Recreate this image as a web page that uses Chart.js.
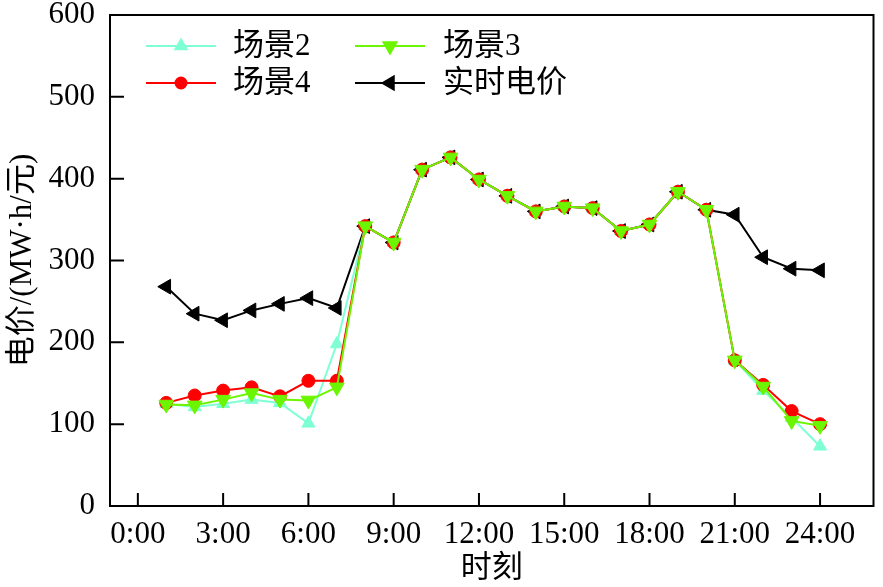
<!DOCTYPE html>
<html>
<head>
<meta charset="utf-8">
<script src="https://cdn.jsdelivr.net/npm/chart.js@4/dist/chart.umd.min.js"></script>
<style>
  html, body { margin: 0; padding: 0; background: #fff; }
  #wrap { width: 883px; height: 587px; }
</style>
</head>
<body>
<div id="wrap"><canvas id="c"></canvas></div>
<script>
const hours = [1, 2, 3, 4, 5, 6, 7, 8, 9, 10, 11, 12, 13, 14, 15, 16, 17, 18, 19, 20, 21, 22, 23, 24];
const scene2 = [125, 121, 125, 130, 126, 101, 198, 342, 322, 411, 426, 399, 379, 360, 366, 364, 336, 344, 384, 362, 178, 141, 108, 73];
const scene3 = [124, 123, 130, 138, 130, 129, 145, 342, 322, 411, 426, 399, 379, 360, 366, 364, 336, 344, 384, 362, 178, 146, 104, 98];
const scene4 = [126, 135, 141, 145, 134, 153, 153, 342, 322, 411, 426, 399, 379, 360, 366, 364, 336, 344, 384, 362, 178, 148, 116, 100];
const realtime = [268, 235, 227, 239, 247, 254, 242, 342, 322, 411, 426, 399, 379, 360, 366, 364, 336, 344, 384, 362, 356, 304, 290, 288];

const xTickValues = [0, 3, 6, 9, 12, 15, 18, 21, 24];
const xTickLabels = ['0:00', '3:00', '6:00', '9:00', '12:00', '15:00', '18:00', '21:00', '24:00'];
const yTickValues = [0, 100, 200, 300, 400, 500, 600];

const FONT = '"Liberation Serif", "Times New Roman", "Noto Sans CJK SC", serif';

const pts = arr => hours.map((h, i) => ({ x: h, y: arr[i] }));

const series = [
  { label: '场景2', data: scene2, color: '#7fffd4', pointStyle: 'triangle', rotation: 0, radius: 7.5, order: 3 },
  { label: '场景3', data: scene3, color: '#6cf500', pointStyle: 'triangle', rotation: 180, radius: 8.5, order: 1 },
  { label: '场景4', data: scene4, color: '#ff0000', pointStyle: 'circle', rotation: 0, radius: 6.5, order: 2 },
  { label: '实时电价', data: realtime, color: '#000000', pointStyle: 'triangle', rotation: -90, radius: 8.5, order: 4 }
];

// frame + inward tick marks
const framePlugin = {
  id: 'frame',
  afterDatasetsDraw(chart) {
    const { ctx, chartArea: a, scales } = chart;
    ctx.save();
    ctx.strokeStyle = '#000';
    ctx.lineWidth = 2;
    ctx.strokeRect(a.left, a.top, a.right - a.left, a.bottom - a.top);
    ctx.beginPath();
    yTickValues.forEach(v => {
      const y = scales.y.getPixelForValue(v);
      ctx.moveTo(a.left, y);
      ctx.lineTo(a.left + 14, y);
    });
    xTickValues.forEach(v => {
      const x = scales.x.getPixelForValue(v);
      ctx.moveTo(x, a.bottom);
      ctx.lineTo(x, a.bottom - 13);
    });
    ctx.stroke();
    ctx.restore();
  }
};

// two-column legend with line + marker samples
const legendPlugin = {
  id: 'lineLegend',
  afterDraw(chart) {
    const { ctx } = chart;
    const cols = [{ x0: 146, x1: 216, tx: 233 }, { x0: 355, x1: 425, tx: 443 }];
    const rows = [46, 83];
    const order = [0, 1, 2, 3];
    ctx.save();
    order.forEach((si, k) => {
      const s = series[si];
      const c = cols[k % 2];
      const y = rows[Math.floor(k / 2)];
      ctx.strokeStyle = s.color;
      ctx.fillStyle = s.color;
      ctx.lineWidth = 2;
      ctx.beginPath();
      ctx.moveTo(c.x0, y);
      ctx.lineTo(c.x1, y);
      ctx.stroke();
      Chart.helpers.drawPoint(ctx, { pointStyle: s.pointStyle, rotation: s.rotation, radius: s.radius - 1, borderWidth: 1 }, (c.x0 + c.x1) / 2, y);
      ctx.fillStyle = '#000';
      ctx.font = '31px ' + FONT;
      ctx.textBaseline = 'middle';
      ctx.textAlign = 'left';
      ctx.fillText(s.label, c.tx, y + 1);
    });
    ctx.restore();
  }
};

new Chart(document.getElementById('c'), {
  type: 'line',
  data: {
    datasets: series.map(s => ({
      label: s.label,
      data: pts(s.data),
      borderColor: s.color,
      backgroundColor: s.color,
      borderWidth: 2,
      pointStyle: s.pointStyle,
      rotation: s.rotation,
      pointRadius: s.radius,
      pointBorderWidth: 1,
      tension: 0,
      order: s.order
    }))
  },
  options: {
    responsive: true,
    maintainAspectRatio: false,
    animation: false,
    events: [],
    layout: { padding: { left: 0, top: 15, right: 6, bottom: 0 } },
    plugins: { legend: { display: false }, tooltip: { enabled: false } },
    scales: {
      x: {
        type: 'linear',
        min: -0.98,
        max: 25.88,
        grid: { display: false },
        border: { display: false },
        afterBuildTicks: sc => { sc.ticks = xTickValues.map(v => ({ value: v })); },
        afterFit: sc => { sc.height = 81; sc.paddingLeft = 0; sc.paddingRight = 0; },
        ticks: {
          autoSkip: false,
          maxRotation: 0,
          padding: 2,
          color: '#000',
          font: { family: FONT, size: 31 },
          callback: v => xTickLabels[xTickValues.indexOf(v)]
        },
        title: {
          display: true,
          text: '时刻',
          color: '#000',
          font: { family: FONT, size: 31 },
          padding: { top: 0, bottom: 0 }
        }
      },
      y: {
        min: 0,
        max: 600,
        grid: { display: false },
        border: { display: false },
        afterBuildTicks: sc => { sc.ticks = yTickValues.map(v => ({ value: v })); },
        afterFit: sc => { sc.width = 110; sc.paddingTop = 0; sc.paddingBottom = 0; },
        ticks: {
          padding: 7,
          color: '#000',
          font: { family: FONT, size: 31 }
        },
        title: {
          display: true,
          text: '电价/(MW·h/元)',
          color: '#000',
          font: { family: FONT, size: 31 },
          padding: { top: 4, bottom: 0 }
        }
      }
    }
  },
  plugins: [framePlugin, legendPlugin]
});
</script>
</body>
</html>
